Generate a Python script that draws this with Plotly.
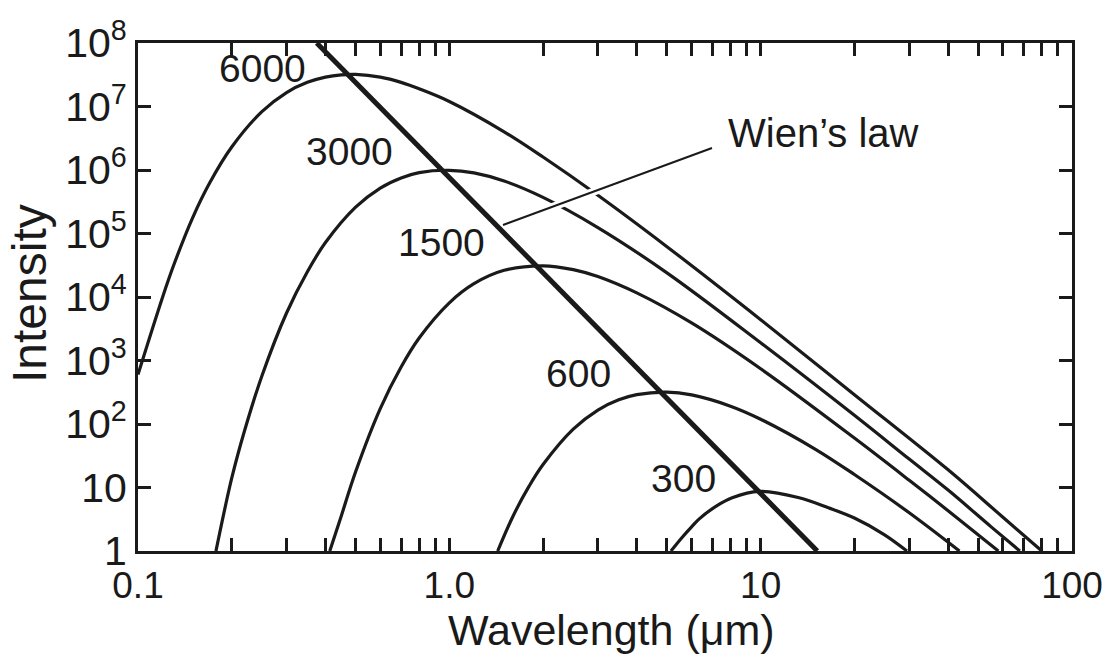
import plotly.graph_objects as go

# ---------------- data ----------------
wl_6000 = [0.1, 0.12, 0.13, 0.15, 0.17, 0.2, 0.25, 0.3, 0.35, 0.4, 0.45, 0.5, 0.6, 0.7, 0.8,
           1.0, 1.5, 2.0, 3.0, 5.0, 10.0, 20.0, 40.0, 60.0, 80.0]
I_6000 = [600, 1.0e4, 3.1e4, 1.8e5, 6.3e5, 2.3e6, 8.3e6, 1.66e7, 2.4e7, 2.9e7, 3.15e7, 3.2e7, 2.9e7,
          2.4e7, 1.9e7, 1.2e7, 4.0e6, 1.6e6, 4.0e5, 6.2e4, 4.4e3, 290, 19, 3.4, 1.0]

wl_3000 = [0.178, 0.2, 0.22, 0.25, 0.3, 0.35, 0.4, 0.5, 0.6, 0.7, 0.8, 1.0, 1.2, 1.5, 2.0,
           3.0, 5.0, 10.0, 20.0, 30.0, 40.0, 55.0, 68.0]
I_3000 = [1.0, 14, 79, 570, 5.6e3, 2.5e4, 7.2e4, 2.6e5, 5.2e5, 7.5e5, 9.1e5, 9.9e5, 9.0e5, 6.7e5,
          3.7e5, 1.24e5, 2.4e4, 1.9e3, 137, 28, 9.1, 2.4, 1.0]

wl_1500 = [0.413, 0.45, 0.5, 0.6, 0.7, 0.8, 1.0, 1.2, 1.5, 2.0, 2.5, 3.0, 4.0, 6.0, 10.0,
           20.0, 30.0, 40.0, 58.0]
I_1500 = [1.0, 3.6, 17.7, 175, 790, 2.26e3, 8.1e3, 1.62e4, 2.63e4, 3.1e4, 2.7e4, 2.1e4, 1.16e4,
          3.9e3, 740, 60, 13, 4.3, 1.0]

wl_600 = [1.43, 1.6, 1.8, 2.0, 2.5, 3.0, 3.5, 4.0, 5.0, 6.0, 8.0, 10.0, 15.0, 20.0, 30.0, 43.5]
I_600 = [1.0, 3.5, 10.3, 23, 83, 166, 240, 290, 318, 287, 191, 119, 40, 16, 4.0, 1.0]

wl_300 = [5.15, 5.6, 6.0, 6.35, 7.2, 8.1, 9.9, 13.3, 16.5, 20.0, 25.0, 29.5]
I_300 = [1.0, 1.65, 2.4, 3.2, 5.1, 6.9, 8.7, 6.9, 4.8, 3.3, 1.8, 1.0]

wl_wien = [0.375, 15.2]
I_wien = [1.0e8, 1.0]

curve_labels = ["6000", "3000", "1500", "600", "300"]

x_major = [0.1, 1, 10, 100]
x_major_text = ["0.1", "1.0", "10", "100"]
y_ticks = [1, 10, 1e2, 1e3, 1e4, 1e5, 1e6, 1e7, 1e8]
y_tick_text = ["1", "10", "10<sup>2</sup>", "10<sup>3</sup>", "10<sup>4</sup>", "10<sup>5</sup>",
               "10<sup>6</sup>", "10<sup>7</sup>", "10<sup>8</sup>"]

# ---------------- figure ----------------
INK = "#1a1a1a"
W, H = 1114, 666
L, R, T, B = 138, 42, 43, 115
PW, PH = W - L - R, H - T - B


def px(xp, yp):
    """pixel position -> paper coordinates"""
    return (xp - L) / PW, (H - B - yp) / PH


fig = go.Figure()
for wl, val in [(wl_6000, I_6000), (wl_3000, I_3000), (wl_1500, I_1500),
                (wl_600, I_600), (wl_300, I_300)]:
    fig.add_trace(go.Scatter(x=wl, y=val, mode="lines",
                             line=dict(color=INK, width=3.2, shape="spline", smoothing=1.0),
                             hoverinfo="skip"))
fig.add_trace(go.Scatter(x=wl_wien, y=I_wien, mode="lines",
                         line=dict(color=INK, width=5), hoverinfo="skip"))

# minor x ticks: 2..9 in each decade
minor_vals = []
for m in x_major[:-1]:
    for k in range(2, 10):
        minor_vals.append(m * k)

tick_style = dict(ticks="inside", ticklen=13, tickwidth=2.5, tickcolor=INK)

fig.update_xaxes(type="log", range=[-1, 2], tickmode="array", tickvals=x_major,
                 ticktext=x_major_text, tickfont=dict(size=37, color=INK),
                 showline=True, linewidth=3, linecolor=INK, mirror="allticks",
                 showgrid=False, zeroline=False,
                 minor=dict(tickmode="array", tickvals=minor_vals, ticks="inside",
                            ticklen=13, tickwidth=2.5, tickcolor=INK, showgrid=False),
                 **tick_style)
fig.update_yaxes(type="log", range=[0, 8], tickmode="array", tickvals=y_ticks,
                 ticktext=y_tick_text, tickfont=dict(size=41, color=INK),
                 showline=True, linewidth=3, linecolor=INK, mirror="allticks",
                 showgrid=False, zeroline=False, **tick_style)

fig.update_layout(width=W, height=H, margin=dict(l=L, r=R, t=T, b=B, autoexpand=False),
                  plot_bgcolor="white", paper_bgcolor="white", showlegend=False,
                  font=dict(family="Liberation Sans, Arial, sans-serif", color=INK))

annotations = []
ax_, ay_ = px(611, 630)
annotations.append(dict(text="Wavelength (μm)", x=ax_, y=ay_, xref="paper", yref="paper",
                        showarrow=False, font=dict(size=43, color=INK),
                        xanchor="center", yanchor="middle"))
ax_, ay_ = px(29, 294)
annotations.append(dict(text="Intensity", x=ax_, y=ay_, xref="paper", yref="paper",
                        showarrow=False, textangle=-90, font=dict(size=48, color=INK),
                        xanchor="center", yanchor="middle"))
label_pos = [(262, 68), (349, 152), (441, 243), (578, 373), (683, 478)]
for txt, (xp, yp) in zip(curve_labels, label_pos):
    a, b = px(xp, yp)
    annotations.append(dict(text=txt, x=a, y=b, xref="paper", yref="paper", showarrow=False,
                            font=dict(size=39, color=INK), xanchor="center", yanchor="middle"))
a, b = px(726, 133)
annotations.append(dict(text="Wien’s law", x=a, y=b, xref="paper", yref="paper",
                        showarrow=False, font=dict(size=40, color=INK),
                        xanchor="left", yanchor="middle"))
fig.update_layout(annotations=annotations)

# pointer line with a white halo where it crosses the curves
x0, y0 = px(712, 148)
x1, y1 = px(503, 225)
hx0, hy0 = px(690, 156)
hx1, hy1 = px(528, 216)
fig.add_shape(type="line", xref="paper", yref="paper", x0=hx0, y0=hy0, x1=hx1, y1=hy1,
              line=dict(color="white", width=8))
fig.add_shape(type="line", xref="paper", yref="paper", x0=x0, y0=y0, x1=x1, y1=y1,
              line=dict(color=INK, width=2))

fig.write_html("out.html")
